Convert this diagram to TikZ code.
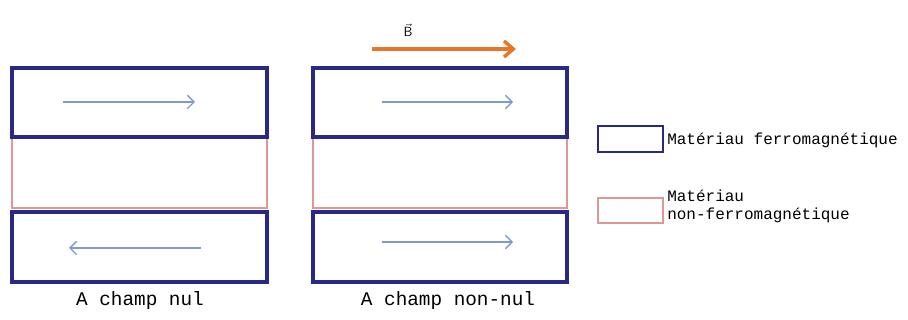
\documentclass[tikz,border=0pt]{standalone}
\usepackage{fontspec}
\setmonofont{Liberation Mono}
\usetikzlibrary{arrows.meta}
\definecolor{ferroblue}{RGB}{42,40,135}
\definecolor{nonferro}{RGB}{222,150,150}
\definecolor{magarrow}{RGB}{125,155,205}
\definecolor{fieldorange}{RGB}{232,118,38}
\begin{document}
\begin{tikzpicture}[x=0.75pt,y=-0.75pt,
  ferro/.style={draw=ferroblue,line width=2.4pt,rectangle,inner sep=0pt},
  nonferrobox/.style={draw=nonferro,line width=1.8pt,rectangle,inner sep=0pt},
  magn/.style={draw=magarrow,line width=0.9pt,-{Straight Barb[length=5pt,width=10pt,line width=1pt]}},
  field/.style={draw=fieldorange,line width=2.6pt,-{Straight Barb[length=7pt,width=12pt,line width=2.6pt]}},
  caption/.style={font=\ttfamily\fontsize{14.5}{16}\selectfont,inner sep=0pt},
  legendtext/.style={font=\ttfamily\fontsize{12}{12.5}\selectfont,inner sep=0pt,anchor=west,align=left}]
\useasboundingbox (0,0) rectangle (908,320);
% left panel
\node[nonferrobox,minimum width=255*0.75pt,minimum height=71*0.75pt] (Lmid) at (139.5,172.5) {};
\node[ferro,minimum width=255*0.75pt,minimum height=69*0.75pt] (Ltop) at (139.5,102.5) {};
\node[ferro,minimum width=255*0.75pt,minimum height=70*0.75pt] (Lbot) at (139.5,247) {};
\coordinate (Lta) at (63,102); \coordinate (Ltb) at (195,102);
\coordinate (Lba) at (201,248); \coordinate (Lbb) at (69,248);
\draw[magn] (Lta) -- (Ltb);
\draw[magn] (Lba) -- (Lbb);
\node[caption] (Lcap) at (140,301) {A champ nul};
% right panel
\node[nonferrobox,minimum width=254*0.75pt,minimum height=71*0.75pt] (Rmid) at (440,172.5) {};
\node[ferro,minimum width=254*0.75pt,minimum height=69*0.75pt] (Rtop) at (440,102.5) {};
\node[ferro,minimum width=254*0.75pt,minimum height=70*0.75pt] (Rbot) at (440,247) {};
\coordinate (Rta) at (382,102); \coordinate (Rtb) at (513,102);
\coordinate (Rba) at (382,242); \coordinate (Rbb) at (513,242);
\draw[magn] (Rta) -- (Rtb);
\draw[magn] (Rba) -- (Rbb);
\coordinate (Fa) at (372,49); \coordinate (Fb) at (516,49);
\draw[field] (Fa) -- (Fb);
\node[inner sep=0pt,font=\sffamily\fontsize{10}{10}\selectfont] (Blab) at (408,30) {$\vec{\textsf{B}}$};
\node[caption] (Rcap) at (448,301) {A champ non-nul};
% legend
\node[ferro,line width=2pt,minimum width=65*0.75pt,minimum height=26*0.75pt] (Lg1) at (630.5,139) {};
\node[nonferrobox,minimum width=65*0.75pt,minimum height=25*0.75pt] (Lg2) at (630.5,210.5) {};
\node[legendtext] (Lg1t) at (667,140) {Matériau ferromagnétique};
\node[legendtext,font=\ttfamily\fontsize{12}{13.5}\selectfont] (Lg2t) at (667,206) {Matériau\\non-ferromagnétique};
\end{tikzpicture}
\end{document}
